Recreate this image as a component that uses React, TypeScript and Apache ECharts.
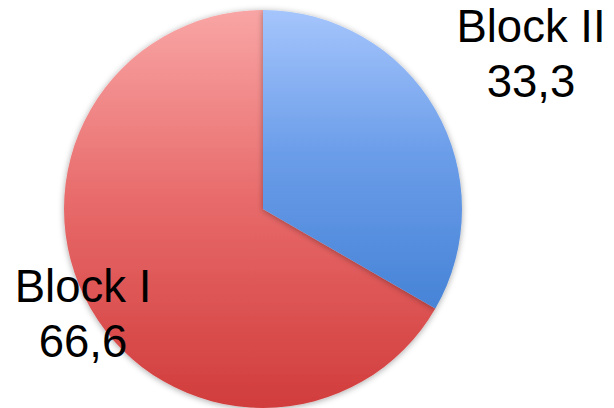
import React, { useEffect, useRef } from "react";
import * as echarts from "echarts";

const categories = ["Block I", "Block II"];
const values = [66.6, 33.3];

const W = 614;
const H = 408;

export default function App() {
  const ref = useRef<HTMLDivElement>(null);
  useEffect(() => {
    if (!ref.current) return;
    const chart = echarts.init(ref.current, null, { renderer: "svg" });
    const cx = 263;
    const cy = 209;
    const r = 199;
    const grad = (stops: [number, string][]) =>
      new echarts.graphic.LinearGradient(0, cy - r, 0, cy + r,
        stops.map(([offset, color]) => ({ offset, color })), true);
    const fills = [
      grad([[0, "#f9a5a5"], [0.48, "#e86a6a"], [1, "#d13c3c"]]),
      grad([[0, "#a5c5fc"], [0.36, "#6b9de9"], [0.72, "#4985d8"], [1, "#3a74c8"]]),
    ];
    const labelPos = [
      { x: 83, y: 314 },
      { x: 531, y: 54 },
    ];
    chart.setOption({
      animation: false,
      graphic: categories.map((name, i) => ({
        type: "text",
        x: labelPos[i].x,
        y: labelPos[i].y,
        z: 100,
        silent: true,
        style: {
          text: `${name}\n${String(values[i]).replace(".", ",")}`,
          fontFamily: "'Liberation Sans', Arial, sans-serif",
          fontSize: 45.5,
          lineHeight: 55,
          fill: "#000",
          align: "center",
          verticalAlign: "middle",
        },
      })),
      series: [
        {
          type: "pie",
          center: [cx, cy],
          radius: r,
          startAngle: 90,
          clockwise: false,
          silent: true,
          data: categories.map((name, i) => ({
            name,
            value: values[i],
            itemStyle: {
              color: fills[i],
              shadowBlur: 6,
              shadowColor: "rgba(0,0,0,0.35)",
              shadowOffsetY: 1,
            },
          })),
          label: { show: false },
          labelLine: { show: false },
        },
      ],
    });
    return () => chart.dispose();
  }, []);
  return (
    <div
      ref={ref}
      style={{ position: "fixed", left: 0, top: 0, width: W, height: H, background: "#fff" }}
    />
  );
}
